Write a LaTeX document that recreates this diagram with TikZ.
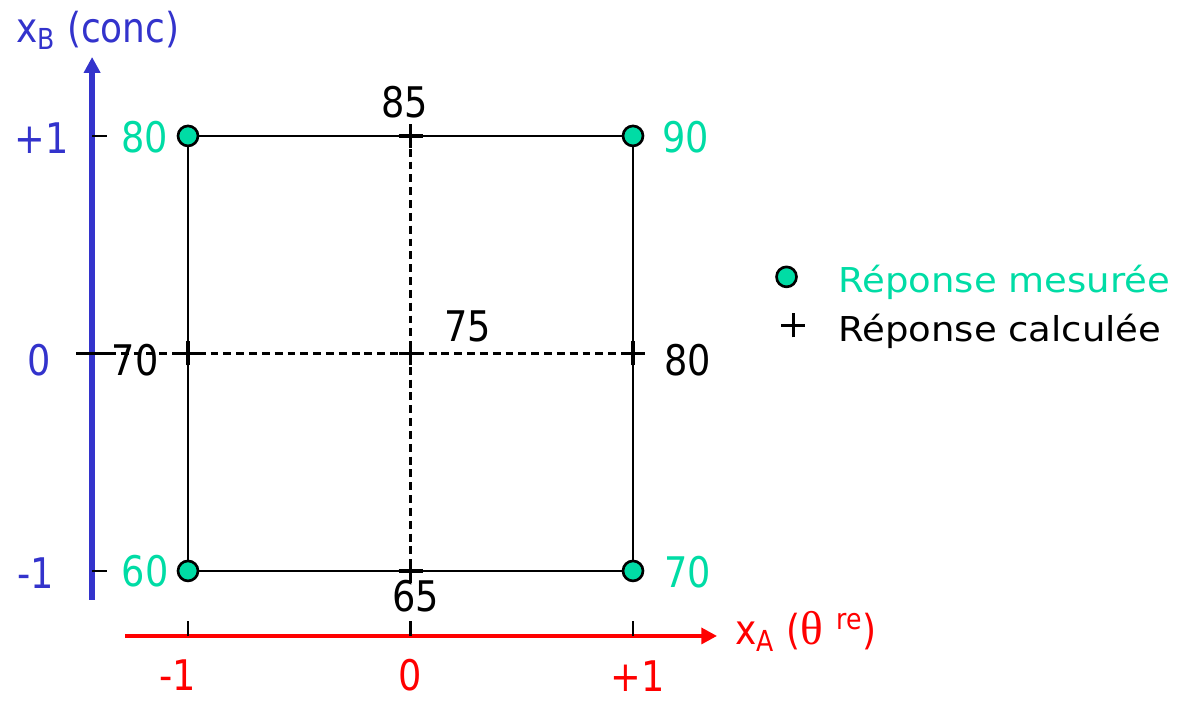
\documentclass[tikz,border=0pt]{standalone}
\usepackage{fontspec}
\setmainfont{DejaVu Sans}[FakeStretch=0.87]
\newfontfamily\legendefont{DejaVu Sans}[FakeStretch=1.08]
\newfontfamily\thetafont{Liberation Serif}
\usetikzlibrary{arrows.meta}
\definecolor{bleuaxe}{RGB}{51,51,204}
\definecolor{rougeaxe}{RGB}{255,0,0}
\definecolor{vertmes}{RGB}{0,220,165}
\tikzset{
  chiffre/.style={inner sep=0pt, font=\fontsize{24}{28}\selectfont},
  legende/.style={inner sep=0pt, anchor=base west, font=\legendefont\fontsize{19.5}{23}\selectfont},
  mesure/.style={circle, draw=black, line width=1.5pt, fill=vertmes, minimum size=0.4cm, inner sep=0pt},
  croix/.pic={\draw[line width=2.1pt] (-0.24cm,0) -- (0.24cm,0) (0,-0.24cm) -- (0,0.24cm);}
}
\begin{document}
\begin{tikzpicture}[x=4.45cm, y=4.35cm]
    \useasboundingbox (-1.845,-1.598) rectangle (3.454,1.625);

    % Axe x_B (concentration)
    \draw[bleuaxe, line width=3.2pt, -{Triangle[length=9pt, width=9pt]}] (-1.431,-1.133) -- (-1.431,1.363);
    \draw[line width=1.3pt] (-1.431,1) -- (-1.364,1);
    \draw[line width=1.3pt] (-1.431,-1) -- (-1.364,-1);
    \draw[line width=1.3pt] (-1.503,0) -- (-1.360,0);
    \node[anchor=base west, inner sep=0pt, text=bleuaxe, font=\fontsize{23.5}{27}\selectfont] (titreB) at (-1.773,1.428) {x\textsubscript{B} (conc)};

    % Axe x_A (temperature)
    \draw[rougeaxe, line width=2.8pt, -{Triangle[length=9pt, width=9pt]}] (-1.283,-1.299) -- (1.378,-1.299);
    \draw[line width=1.3pt] (-1,-1.299) -- (-1,-1.230);
    \draw[line width=1.3pt] (0,-1.299) -- (0,-1.230);
    \draw[line width=1.3pt] (1,-1.299) -- (1,-1.230);
    \node[anchor=base west, inner sep=0pt, text=rougeaxe, font=\fontsize{23.5}{27}\selectfont] (titreA) at (1.458,-1.340) {x\textsubscript{A} ({\thetafont\fontsize{27}{30}\selectfont θ}\,\,\textsuperscript{re})};

    % Graduations
    \node[chiffre, text=bleuaxe] (bplus) at (-1.657,0.99) {+1};
    \node[chiffre, text=bleuaxe] (bzero) at (-1.670,-0.03) {0};
    \node[chiffre, text=bleuaxe] (bmoins) at (-1.683,-1.01) {-1};
    \node[chiffre, text=rougeaxe] (amoins) at (-1.045,-1.48) {-1};
    \node[chiffre, text=rougeaxe] (azero) at (0,-1.48) {0};
    \node[chiffre, text=rougeaxe] (aplus) at (1.020,-1.485) {+1};

    % Domaine experimental
    \draw[line width=1.4pt] (-1,-1) rectangle (1,1);
    \draw[line width=1.5pt, dash pattern=on 4.5pt off 2.8pt] (0,1) -- (0,-1);
    \draw[line width=1.5pt, dash pattern=on 4.5pt off 2.8pt] (-1.360,0) -- (1,0);

    % Reponses calculees
    \foreach \p in {(-1,0),(0,0),(1,0),(0,1),(0,-1)}
        \pic at \p {croix};
    \node[chiffre] (c85) at (-0.025,1.156) {85};
    \node[chiffre] (c75) at (0.256,0.126) {75};
    \node[chiffre] (c70) at (-1.238,-0.03) {70};
    \node[chiffre] (c80) at (1.247,-0.03) {80};
    \node[chiffre] (c65) at (0.022,-1.115) {65};

    % Reponses mesurees
    \node[mesure] (m1) at (-1,1) {};
    \node[mesure] (m2) at (1,1) {};
    \node[mesure] (m3) at (-1,-1) {};
    \node[mesure] (m4) at (1,-1) {};
    \node[chiffre, text=vertmes] (v80) at (-1.195,0.995) {80};
    \node[chiffre, text=vertmes] (v90) at (1.236,0.993) {90};
    \node[chiffre, text=vertmes] (v60) at (-1.193,-1.0) {60};
    \node[chiffre, text=vertmes] (v70) at (1.247,-1.005) {70};

    % Legende
    \node[mesure] (legm) at (1.690,0.352) {};
    \pic at (1.721,0.129) {croix};
    \node[legende, text=vertmes] (legtm) at (1.921,0.278) {Réponse mesurée};
    \node[legende] (legtc) at (1.921,0.053) {Réponse calculée};
\end{tikzpicture}
\end{document}
